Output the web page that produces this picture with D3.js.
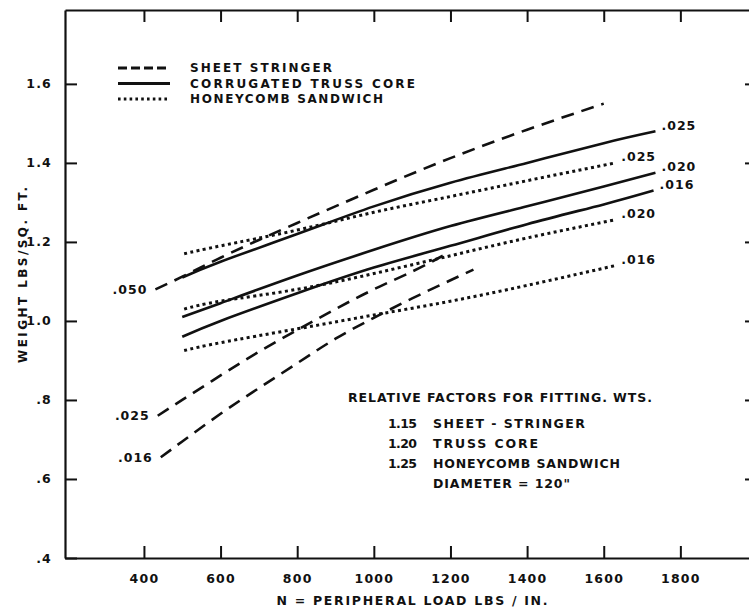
<!DOCTYPE html>
<html>
<head>
<meta charset="utf-8">
<script src="https://cdn.jsdelivr.net/npm/d3@7"></script>
<style>
  body { margin: 0; background: #fff; }
  svg { display: block; }
  text { font-family: 'DejaVu Sans', sans-serif; font-weight: bold; fill: #111; }
</style>
</head>
<body>
<svg width="749" height="608"></svg>
<script>
// load (lbs/in) vs weight (lbs/sq ft)
const xTicks = [400, 600, 800, 1000, 1200, 1400, 1600, 1800];
const yTicks = [0.4, 0.6, 0.8, 1.0, 1.2, 1.4, 1.6];

const sheet050 = [[430, 1.08], [500, 1.112], [600, 1.16], [700, 1.205], [800, 1.248], [1000, 1.332], [1200, 1.412], [1400, 1.484], [1600, 1.55]];
const sheet025 = [[436, 0.76], [500, 0.80], [600, 0.862], [700, 0.922], [800, 0.977], [900, 1.03], [1000, 1.08], [1100, 1.125], [1180, 1.165]];
const sheet016 = [[444, 0.655], [500, 0.695], [600, 0.765], [700, 0.83], [800, 0.893], [900, 0.955], [1000, 1.008], [1100, 1.057], [1200, 1.103], [1260, 1.13]];

const truss025 = [[500, 1.11], [600, 1.15], [800, 1.22], [1000, 1.29], [1200, 1.35], [1400, 1.40], [1600, 1.45], [1735, 1.48]];
const truss020 = [[500, 1.01], [600, 1.045], [800, 1.115], [1000, 1.18], [1200, 1.24], [1400, 1.29], [1600, 1.34], [1735, 1.375]];
const truss016 = [[500, 0.96], [600, 1.0], [800, 1.07], [1000, 1.135], [1200, 1.19], [1400, 1.245], [1600, 1.295], [1730, 1.33]];

const honey025 = [[505, 1.17], [600, 1.19], [800, 1.23], [1000, 1.275], [1200, 1.315], [1400, 1.355], [1630, 1.40]];
const honey020 = [[505, 1.03], [600, 1.05], [800, 1.08], [1000, 1.12], [1200, 1.165], [1400, 1.21], [1630, 1.256]];
const honey016 = [[505, 0.925], [600, 0.945], [800, 0.98], [1000, 1.015], [1200, 1.05], [1400, 1.09], [1630, 1.14]];

const legendNames = ['SHEET STRINGER', 'CORRUGATED TRUSS CORE', 'HONEYCOMB SANDWICH'];
const factorValues = ['1.15', '1.20', '1.25', ''];
const factorNames = ['SHEET - STRINGER', 'TRUSS CORE', 'HONEYCOMB  SANDWICH', 'DIAMETER = 120"'];

const curves = [
  { pts: sheet050, kind: 'dash', label: '.050', side: 'start' },
  { pts: sheet025, kind: 'dash', label: '.025', side: 'start' },
  { pts: sheet016, kind: 'dash', label: '.016', side: 'start' },
  { pts: truss025, kind: 'solid', label: '.025', side: 'end' },
  { pts: truss020, kind: 'solid', label: '.020', side: 'end' },
  { pts: truss016, kind: 'solid', label: '.016', side: 'end' },
  { pts: honey025, kind: 'dot', label: '.025', side: 'end' },
  { pts: honey020, kind: 'dot', label: '.020', side: 'end' },
  { pts: honey016, kind: 'dot', label: '.016', side: 'end' }
];

const dashes = { dash: '13,8', solid: null, dot: '3,3.4' };

const svg = d3.select('svg');

const x = d3.scaleLinear().domain([194, 2000]).range([65, 757]);
const y = d3.scaleLinear().domain([0.4, 1.787]).range([558, 10]);

const fmtY = (d) => d < 1 ? d.toFixed(1).replace(/^0/, '') : d.toFixed(1);

// axes, ticks pointing into the frame
const styleAxis = (g) => {
  g.selectAll('.domain').attr('stroke', '#111').attr('stroke-width', 2.2);
  g.selectAll('.tick line').attr('stroke', '#111').attr('stroke-width', 2);
  g.selectAll('text').style('font-size', '12.5px').style('letter-spacing', '1.2px').attr('fill', '#111');
};

svg.append('g')
  .attr('transform', `translate(0, ${y(0.4)})`)
  .call(d3.axisBottom(x).tickValues(xTicks).tickSize(-12).tickSizeOuter(0).tickPadding(16).tickFormat(d3.format('d')))
  .call(styleAxis);

svg.append('g')
  .attr('transform', `translate(0, ${y(1.787)})`)
  .call(d3.axisTop(x).tickValues(xTicks).tickSize(-12).tickSizeOuter(0).tickFormat(''))
  .call(styleAxis);

svg.append('g')
  .attr('transform', `translate(${x(194)}, 0)`)
  .call(d3.axisLeft(y).tickValues(yTicks).tickSize(-12).tickSizeOuter(0).tickPadding(13).tickFormat(fmtY))
  .call(styleAxis);

svg.append('g')
  .attr('transform', `translate(${x(2000)}, 0)`)
  .call(d3.axisRight(y).tickValues(yTicks.slice(1)).tickSize(-12).tickSizeOuter(0).tickFormat(''))
  .call(styleAxis);

// curves
const line = d3.line()
  .x((d) => x(d[0]))
  .y((d) => y(d[1]))
  .curve(d3.curveNatural);

svg.append('g').selectAll('path')
  .data(curves)
  .join('path')
  .attr('d', (c) => line(c.pts))
  .attr('fill', 'none')
  .attr('stroke', '#111')
  .attr('stroke-width', (c) => c.kind === 'dot' ? 3 : 2.6)
  .attr('stroke-dasharray', (c) => dashes[c.kind]);

svg.append('g').selectAll('text')
  .data(curves)
  .join('text')
  .attr('x', (c) => {
    const p = c.side === 'start' ? c.pts[0] : c.pts[c.pts.length - 1];
    return c.side === 'start' ? x(p[0]) - 8 : x(p[0]) + 6;
  })
  .attr('y', (c) => {
    const p = c.side === 'start' ? c.pts[0] : c.pts[c.pts.length - 1];
    return c.side === 'start' ? y(p[1]) : y(p[1]) - 6;
  })
  .attr('text-anchor', (c) => c.side === 'start' ? 'end' : 'start')
  .attr('dominant-baseline', 'central')
  .style('font-size', '12.5px')
  .style('letter-spacing', '1px')
  .text((c) => c.label);

// legend
const legendKinds = ['dash', 'solid', 'dot'];
const legendDash = { dash: '9,4', solid: null, dot: '2.6,3.2' };
const legendWidths = [142, 225, 193];
const legend = svg.append('g');
legendNames.forEach((name, i) => {
  const ly = 68 + i * 15.5;
  legend.append('line')
    .attr('x1', 118).attr('x2', 170)
    .attr('y1', ly).attr('y2', ly)
    .attr('stroke', '#111')
    .attr('stroke-width', 2.8)
    .attr('stroke-dasharray', legendDash[legendKinds[i]]);
  legend.append('text')
    .attr('x', 190).attr('y', ly)
    .attr('dominant-baseline', 'central')
    .attr('textLength', legendWidths[i])
    .attr('lengthAdjust', 'spacing')
    .style('font-size', '12px')
    .text(name);
});

// note block
svg.append('text')
  .attr('x', 348).attr('y', 397)
  .attr('dominant-baseline', 'central')
  .attr('textLength', 304)
  .attr('lengthAdjust', 'spacing')
  .style('font-size', '12.5px')
  .text('RELATIVE FACTORS FOR FITTING. WTS.');

const noteWidths = [152, 105, 187, 137];
factorNames.forEach((name, i) => {
  const ny = 423 + i * 20;
  if (factorValues[i]) {
    svg.append('text')
      .attr('x', 388).attr('y', ny)
      .attr('dominant-baseline', 'central')
      .attr('textLength', 29)
      .attr('lengthAdjust', 'spacing')
      .style('font-size', '12.5px')
      .text(factorValues[i]);
  }
  svg.append('text')
    .attr('x', 433).attr('y', ny)
    .attr('dominant-baseline', 'central')
    .attr('textLength', noteWidths[i])
    .attr('lengthAdjust', 'spacing')
    .style('font-size', '12.5px')
    .text(name);
});

// axis titles
svg.append('text')
  .attr('x', 412).attr('y', 600)
  .attr('text-anchor', 'middle')
  .attr('dominant-baseline', 'central')
  .attr('textLength', 271)
  .attr('lengthAdjust', 'spacing')
  .style('font-size', '12.5px')
  .text('N = PERIPHERAL  LOAD  LBS / IN.');

svg.append('text')
  .attr('transform', 'translate(23, 275) rotate(-90)')
  .attr('text-anchor', 'middle')
  .attr('dominant-baseline', 'central')
  .attr('textLength', 176)
  .attr('lengthAdjust', 'spacing')
  .style('font-size', '12px')
  .text('WEIGHT  LBS/SQ. FT.');
</script>
</body>
</html>
